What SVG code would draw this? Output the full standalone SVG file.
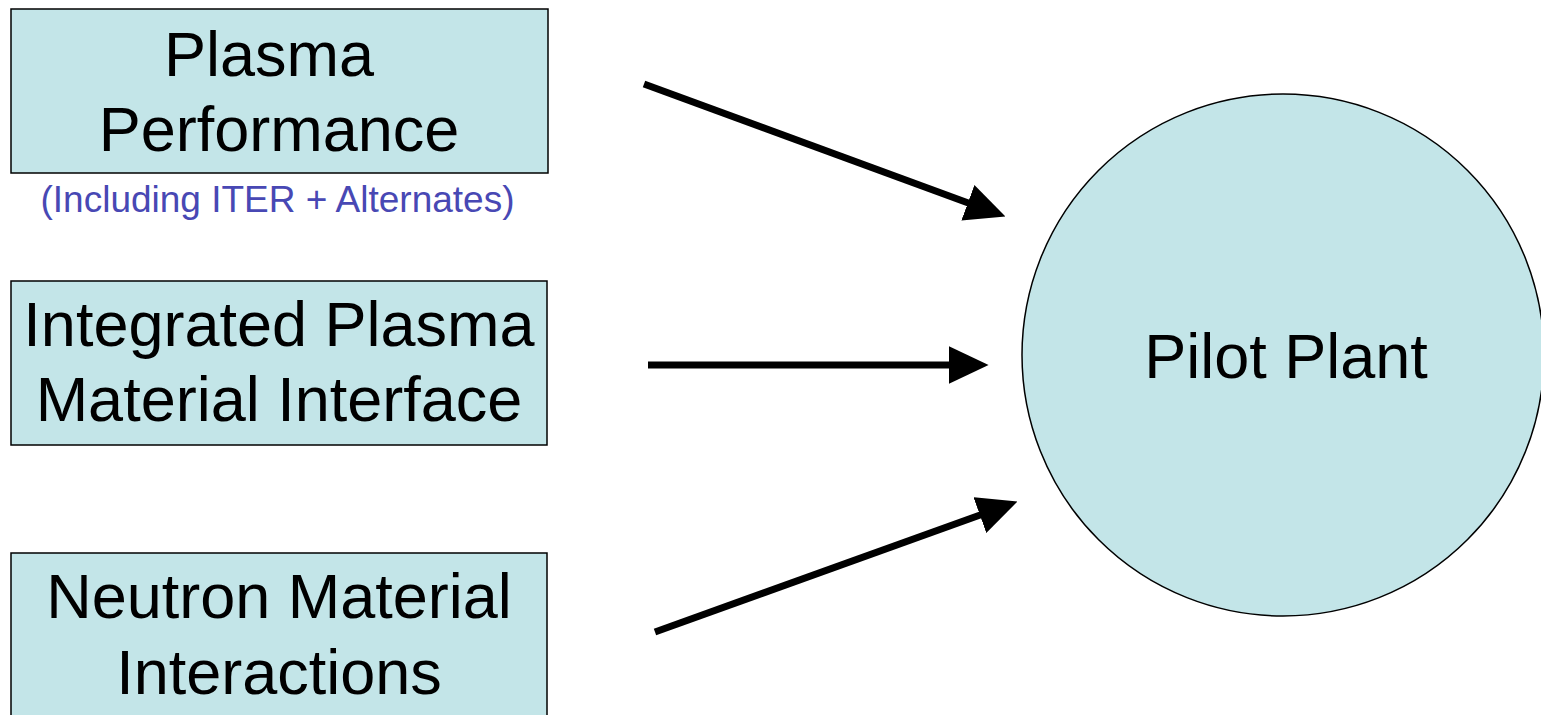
<svg xmlns="http://www.w3.org/2000/svg" width="1541" height="715" viewBox="0 0 1541 715">
<style>
.box{fill:#c3e5e8;stroke:#000;stroke-width:1.5}
.lbl{font-family:"Liberation Sans",Arial,sans-serif;font-size:63px;fill:#000;text-anchor:middle}
.sub{font-family:"Liberation Sans",Arial,sans-serif;font-size:37px;fill:#4848b4;text-anchor:middle}
.conn{stroke:#000;stroke-width:7;fill:none;marker-end:url(#ah)}
</style>
<defs>
<marker id="ah" markerUnits="userSpaceOnUse" markerWidth="40" markerHeight="38" refX="8" refY="18" orient="auto" viewBox="0 0 38 36">
<path d="M0,0 L38,18 L0,36 z" fill="#000"/>
</marker>
</defs>
<rect width="1541" height="715" fill="#fff"/>
<g id="plasma-performance">
<rect class="box" x="11" y="9" width="537" height="164"/>
<text class="lbl" x="269" y="76">Plasma</text>
<text class="lbl" x="279" y="151">Performance</text>
<text class="sub" x="277.5" y="212">(Including ITER + Alternates)</text>
</g>
<g id="integrated-pmi">
<rect class="box" x="11" y="281" width="536" height="164"/>
<text class="lbl" x="279" y="346">Integrated Plasma</text>
<text class="lbl" x="279" y="421">Material Interface</text>
</g>
<g id="neutron-interactions">
<rect class="box" x="11" y="553" width="536" height="170"/>
<text class="lbl" x="279" y="618">Neutron Material</text>
<text class="lbl" x="279" y="694">Interactions</text>
</g>
<g id="pilot-plant">
<circle cx="1283" cy="355" r="261" fill="#c3e5e8" stroke="#000" stroke-width="1.5"/>
<text class="lbl" x="1286" y="378">Pilot Plant</text>
</g>
<g id="connectors">
<line class="conn" x1="644" y1="84" x2="975.8" y2="205.7"/>
<line class="conn" x1="648" y1="365" x2="957" y2="365"/>
<line class="conn" x1="655" y1="632" x2="987.8" y2="512.2"/>
</g>
</svg>
